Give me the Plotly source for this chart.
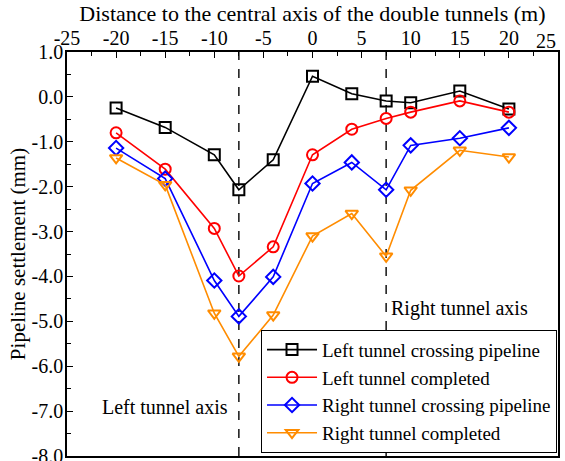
import plotly.graph_objects as go

distance = [-20, -15, -10, -7.5, -4, 0, 4, 7.5, 10, 15, 20]
left_crossing = [-0.25, -0.68, -1.29, -2.07, -1.40, 0.46, 0.07, -0.09, -0.13, 0.13, -0.27]
left_completed = [-0.80, -1.61, -2.93, -3.99, -3.34, -1.29, -0.72, -0.48, -0.34, -0.09, -0.34]
right_crossing = [-1.14, -1.82, -4.09, -4.89, -4.01, -1.93, -1.46, -2.07, -1.08, -0.92, -0.69]
right_completed = [-1.36, -1.96, -4.82, -5.78, -4.86, -3.10, -2.60, -3.55, -2.08, -1.19, -1.34]

series_names = ["Left tunnel crossing pipeline", "Left tunnel completed",
                "Right tunnel crossing pipeline", "Right tunnel completed"]
series_colors = ["#000000", "#ff0000", "#0000ff", "#ff8c00"]
series_symbols = ["square-open", "circle-open", "diamond-open", "triangle-down-open"]

x_ticks = [-25, -20, -15, -10, -5, 0, 5, 10, 15, 20, 25]
x_ticktext = ["-25", "-20", "-15", "-10", "-5", "0", "5", "10", "15", "20", "25"]
y_ticks = [1, 0, -1, -2, -3, -4, -5, -6, -7, -8]
y_ticktext = ["1.0", "0.0", "-1.0", "-2.0", "-3.0", "-4.0", "-5.0", "-6.0", "-7.0", "-8.0"]
tunnel_axes = [-7.5, 7.5]

FONT = "Liberation Serif"

fig = go.Figure()
for name, ys, col, sym in zip(series_names,
                              [left_crossing, left_completed, right_crossing, right_completed],
                              series_colors, series_symbols):
    fig.add_trace(go.Scatter(
        x=distance, y=ys, name=name, mode="lines+markers",
        line=dict(color=col, width=1.6),
        marker=dict(symbol=sym, size=11, color=col, line=dict(color=col, width=2)),
    ))

for xv in tunnel_axes:
    fig.add_shape(type="line", x0=xv, x1=xv, y0=0, y1=1, xref="x", yref="paper",
                  line=dict(color="#222222", width=1.6, dash="dash"), layer="below")

fig.add_annotation(x=-15, y=-6.91, xref="x", yref="y", text="Left tunnel axis",
                   showarrow=False, font=dict(family=FONT, size=20, color="black"))
fig.add_annotation(x=15, y=-4.72, xref="x", yref="y", text="Right tunnel axis",
                   showarrow=False, font=dict(family=FONT, size=20, color="black"))

# last top tick label kept inside the figure edge (as in the reference)
fig.add_annotation(x=x_ticks[-1], y=1, xref="x", yref="paper", text=x_ticktext[-1],
                   xanchor="right", yanchor="bottom", yshift=-2, showarrow=False,
                   font=dict(family=FONT, size=20, color="black"))
shown_ticktext = x_ticktext[:-1] + [""]

fig.update_layout(
    width=565, height=461,
    margin=dict(l=67, r=7, t=52, b=5),
    paper_bgcolor="white", plot_bgcolor="white",
    font=dict(family=FONT, size=20, color="black"),
    title=dict(text="Distance to the central axis of the double tunnels (m)",
               x=0.553, xanchor="center", xref="container",
               y=0.972, yanchor="middle", yref="container",
               font=dict(family=FONT, size=22)),
    xaxis=dict(side="top", range=[-25, 25], tickvals=x_ticks, ticktext=shown_ticktext,
               ticks="inside", ticklen=6, tickwidth=1.2, tickcolor="black",
               showline=True, linecolor="black", linewidth=1.5, mirror=True,
               showgrid=False, zeroline=False, ticklabeloverflow="allow",
               automargin=False, ticklabelstandoff=-3,
               minor=dict(dtick=2.5, tick0=0, ticks="inside", ticklen=4, tickcolor="black"),
               tickfont=dict(family=FONT, size=20)),
    yaxis=dict(range=[-8, 1], tickvals=y_ticks, ticktext=y_ticktext,
               ticks="inside", ticklen=6, tickwidth=1.2, tickcolor="black",
               showline=True, linecolor="black", linewidth=1.5, mirror=True,
               showgrid=False, zeroline=False, ticklabeloverflow="allow",
               automargin=False, ticklabelstandoff=-2,
               minor=dict(dtick=0.5, tick0=0, ticks="inside", ticklen=4, tickcolor="black"),
               title=dict(text="Pipeline settlement (mm)", font=dict(family=FONT, size=21), standoff=0),
               tickfont=dict(family=FONT, size=20)),
    legend=dict(x=0.998, y=0.008, xanchor="right", yanchor="bottom",
                bordercolor="black", borderwidth=1, bgcolor="white",
                font=dict(family=FONT, size=19), tracegroupgap=0, itemwidth=50),
    showlegend=True,
)

fig.write_html("out.html")
